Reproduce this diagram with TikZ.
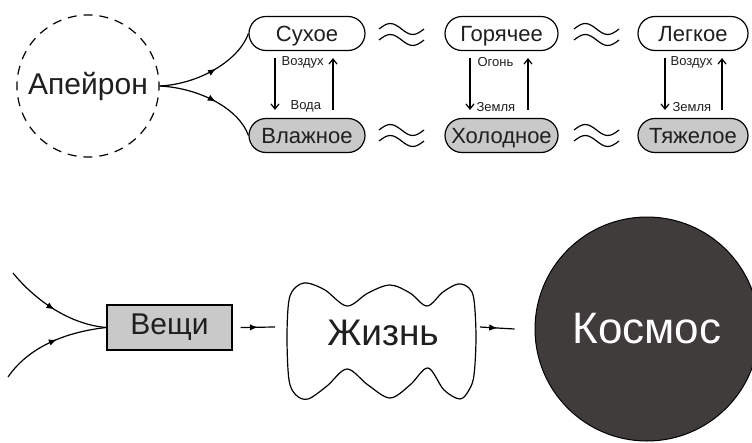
\documentclass[tikz,border=0pt]{standalone}
\usepackage{fontspec}
\setmainfont{Liberation Sans}
\usetikzlibrary{shapes.misc,arrows.meta,decorations.markings}
\definecolor{hellgrau}{HTML}{C9C9C9}
\definecolor{dunkel}{HTML}{403C3C}
\newcommand{\fs}[1]{\fontsize{#1}{#1}\selectfont}
\newcommand{\welle}[2]{%
	\draw[line width=1.2pt] (#1,#2) sin ++(11.25,-5.5) cos ++(11.25,5.5) sin ++(11.25,5.5) cos ++(11.25,-5.5);}

\begin{document}
\begin{tikzpicture}[x=1pt, y=-1pt, line width=1.2pt, text=black!88,
	pill/.style={
		draw,
		rounded rectangle,
		minimum height=34pt,
		inner xsep=2pt,
		text height=18.5pt,
		text depth=3pt,
		font=\fs{22}
	},
	lbl/.style={font=\fs{13}, inner sep=0pt, anchor=west},
	varrow/.style={-{Straight Barb[length=5pt,width=8pt]}, line width=1.2pt},
	midarrow/.style={postaction={decorate}, decoration={markings,
			mark=at position #1 with {\arrow{Latex[length=8pt,width=6.5pt]}}}},
	midarrow/.default=0.5
	]
	\useasboundingbox (0,0) rectangle (752,442);
	
	%Apeiron
	\node[draw, circle, minimum size=142pt, dash pattern=on 9pt off 6.93pt, dash phase=4.5pt, font=\fs{30}] (apeiron) at (88,86) {Апейрон};
	
	%Eigenschaften
	\node[pill, fill=white, minimum width=120pt] (dry)   at (307,33.5)  {Сухое};
	\node[pill, fill=white, minimum width=117pt] (hot)   at (501.5,33.5) {Горячее};
	\node[pill, fill=white, minimum width=114pt] (light) at (693,33.5)  {Легкое};
	\node[pill, fill=hellgrau, minimum width=120pt] (wet)   at (307,135.5)  {Влажное};
	\node[pill, fill=hellgrau, minimum width=117pt] (cold)  at (501.5,135.5) {Холодное};
	\node[pill, fill=hellgrau, minimum width=114pt] (heavy) at (693,135.5)  {Тяжелое};
	
	\draw[midarrow=0.55] (apeiron.east) .. controls +(41,-2) and +(-9,26) .. (dry.west);
	\draw[midarrow=0.55] (apeiron.east) .. controls +(41,2) and +(-9,-26) .. (wet.west);
	
	%Uebergaenge
	\draw[varrow] ([xshift=-32pt,yshift=-7pt]dry.south) -- ([xshift=-32pt,yshift=8pt]wet.north);
	\draw[varrow] ([xshift=26pt,yshift=8pt]wet.north) -- ([xshift=26pt,yshift=-7pt]dry.south);
	\draw[varrow] ([xshift=-31.5pt,yshift=-7pt]hot.south) -- ([xshift=-31.5pt,yshift=8pt]cold.north);
	\draw[varrow] ([xshift=26.5pt,yshift=8pt]cold.north) -- ([xshift=26.5pt,yshift=-7pt]hot.south);
	\draw[varrow] ([xshift=-28pt,yshift=-7pt]light.south) -- ([xshift=-28pt,yshift=8pt]heavy.north);
	\draw[varrow] ([xshift=29pt,yshift=8pt]heavy.north) -- ([xshift=29pt,yshift=-7pt]light.south);
	
	\node[lbl] (air1)   at (281,62)  {Воздух};
	\node[lbl] (water)  at (290,106) {Вода};
	\node[lbl] (fire)   at (477,62)  {Огонь};
	\node[lbl] (earth1) at (476,107) {Земля};
	\node[lbl] (air2)   at (670,62)  {Воздух};
	\node[lbl] (earth2) at (672,107) {Земля};
	
	%Wellen
	\welle{379}{29}
	\welle{379}{40}
	\welle{574}{29}
	\welle{574}{40}
	\welle{379}{130}
	\welle{379}{141}
	\welle{574}{130}
	\welle{574}{141}
	
	%unten
	\coordinate (in1) at (13,273);
	\coordinate (in2) at (8,377);
	\node[draw, fill=hellgrau, minimum width=125pt, minimum height=45pt, font=\fs{30}] (things) at (169.5,327.5) {Вещи};
	\draw[midarrow=0.5] (in1) .. controls +(22,27) and +(-37,-3) .. (things.west);
	\draw[midarrow=0.55] (in2) .. controls +(22,-32) and +(-37,4) .. (things.west);
	
	%Leben
	\draw[line width=1.2pt] plot[smooth cycle, tension=0.55] coordinates {
		(289,300) (296,287) (307,283) (325,290) (347,306) (368,293) (390,285) (410,293)
		(427,306) (443,292) (458,284) (469,288) (474,300) (476,337) (474,375) (469,390)
		(460,399) (444,390) (428,368) (410,385) (390,398) (368,385) (347,369) (327,386)
		(308,399) (296,395) (289,380) (287,337)};
	\node[font=\fs{37}] (life) at (383,333) {Жизнь};
	\coordinate (lifeL) at (287,327);
	\coordinate (lifeR) at (476,327);
	
	%Kosmos
	\node[draw, circle, line width=1pt, fill=dunkel, minimum size=224pt, text=white, font=\fs{44}] (cosmos) at (647,329) {Космос};
	
	\draw[line width=1.2pt, midarrow=0.5] ([xshift=8pt]things.east) -- ([xshift=-12pt]lifeL);
	\draw[line width=1.2pt, midarrow=0.5] ([xshift=4pt]lifeR) -- ([xshift=-20pt]cosmos.west);
	
\end{tikzpicture}
\end{document}
